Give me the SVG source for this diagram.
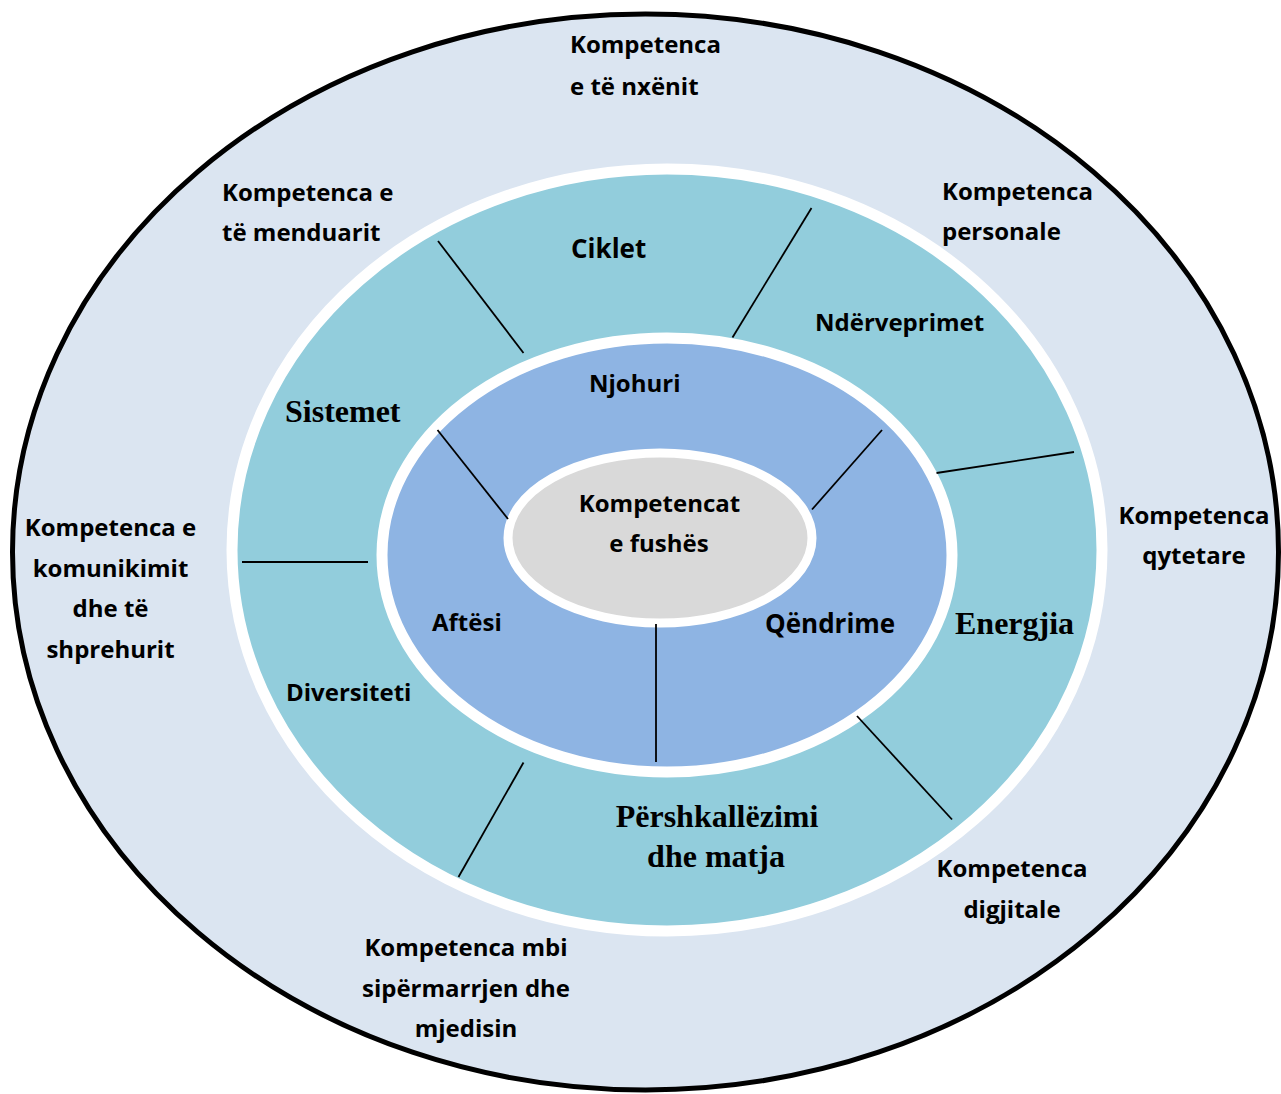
<svg xmlns="http://www.w3.org/2000/svg" width="1281" height="1094" viewBox="0 0 1281 1094">
<style>
.s{font-family:"Open Sans","Noto Sans","Liberation Sans",sans-serif;font-weight:700;font-size:24px;fill:#000}
.b{font-size:26px}
.r{font-family:"Liberation Serif","Times New Roman",serif;font-weight:700;font-size:32px;fill:#000}
.m{text-anchor:middle}
.ln{stroke:#000;stroke-width:1.8;fill:none}
</style>
<rect width="1281" height="1094" fill="#fff"/>
<g id="ring-outer">
<ellipse cx="645.5" cy="552" rx="633" ry="538" fill="#DBE5F1" stroke="#000" stroke-width="5"/>
</g>
<g id="ring-fields">
<ellipse cx="667" cy="550" rx="435" ry="381" fill="#92CDDC" stroke="#fff" stroke-width="11"/>
</g>
<g id="ring-components">
<ellipse cx="667" cy="555" rx="285" ry="217" fill="#8EB4E3" stroke="#fff" stroke-width="11"/>
</g>
<g id="core">
<ellipse cx="660" cy="538" rx="152" ry="85" fill="#D9D9D9" stroke="#fff" stroke-width="9"/>
<text class="s m" x="659.5" y="512">Kompetencat</text>
<text class="s m" x="659" y="552">e fushës</text>
</g>
<g id="connectors">
<line class="ln" x1="438" y1="241" x2="523.5" y2="353"/>
<line class="ln" x1="811.5" y1="208" x2="732.5" y2="337.5"/>
<line class="ln" x1="936.5" y1="473" x2="1074" y2="452"/>
<line class="ln" x1="242" y1="562" x2="368" y2="562"/>
<line class="ln" x1="437.5" y1="430" x2="508" y2="519"/>
<line class="ln" x1="882" y1="430" x2="812" y2="509.5"/>
<line class="ln" x1="656" y1="624" x2="656" y2="762" stroke-width="2.2"/>
<line class="ln" x1="857" y1="716" x2="952" y2="819.5"/>
<line class="ln" x1="523.5" y1="762.5" x2="458.5" y2="877"/>
</g>
<g id="label-nxenit"><text class="s" x="570" y="53">Kompetenca</text><text class="s" x="570" y="95">e të nxënit</text></g>
<g id="label-menduarit"><text class="s" x="222" y="201">Kompetenca e</text><text class="s" x="222" y="241">të menduarit</text></g>
<g id="label-personale"><text class="s" x="942" y="200">Kompetenca</text><text class="s" x="942" y="240">personale</text></g>
<g id="label-qytetare"><text class="s m" x="1194" y="524">Kompetenca</text><text class="s m" x="1194" y="564">qytetare</text></g>
<g id="label-komunikimit"><text class="s m" x="110.5" y="536">Kompetenca e</text><text class="s m" x="110.5" y="577">komunikimit</text><text class="s m" x="110.5" y="617">dhe të</text><text class="s m" x="110.5" y="658">shprehurit</text></g>
<g id="label-sipermarrjen"><text class="s m" x="466" y="956">Kompetenca mbi</text><text class="s m" x="466" y="997">sipërmarrjen dhe</text><text class="s m" x="466" y="1037">mjedisin</text></g>
<g id="label-digjitale"><text class="s m" x="1012" y="877">Kompetenca</text><text class="s m" x="1012" y="918">digjitale</text></g>
<g id="label-ciklet"><text class="s b" x="571" y="258">Ciklet</text></g>
<g id="label-nderveprimet"><text class="s" x="815" y="331">Ndërveprimet</text></g>
<g id="label-sistemet"><text class="r" x="285" y="422">Sistemet</text></g>
<g id="label-energjia"><text class="r" x="955" y="634">Energjia</text></g>
<g id="label-diversiteti"><text class="s" x="286" y="701">Diversiteti</text></g>
<g id="label-pershkallezimi"><text class="r m" x="717" y="827">Përshkallëzimi</text><text class="r m" x="716" y="867">dhe matja</text></g>
<g id="label-njohuri"><text class="s" x="589" y="392">Njohuri</text></g>
<g id="label-aftesi"><text class="s" x="432" y="631">Aftësi</text></g>
<g id="label-qendrime"><text class="s b" x="765" y="633">Qëndrime</text></g>
</svg>
